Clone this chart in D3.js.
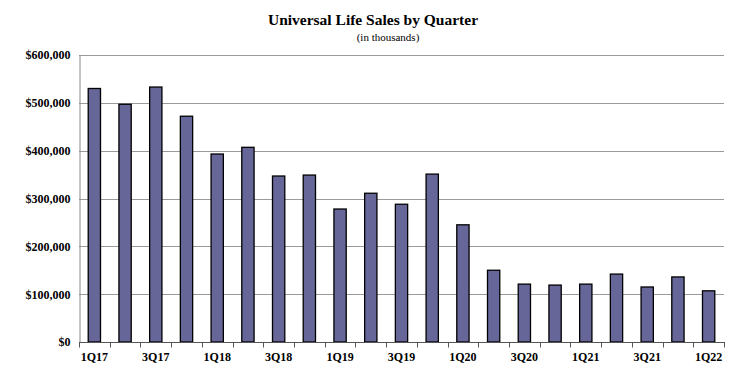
<!DOCTYPE html>
<html><head><meta charset="utf-8">
<script src="https://cdn.jsdelivr.net/npm/d3@7"></script>
<style>body{margin:0;background:#fff}svg{display:block}</style>
</head><body>
<svg id="c" width="739" height="379"></svg>
<script>
const categories = ["1Q17","2Q17","3Q17","4Q17","1Q18","2Q18","3Q18","4Q18","1Q19","2Q19","3Q19","4Q19","1Q20","2Q20","3Q20","4Q20","1Q21","2Q21","3Q21","4Q21","1Q22"];
const sales = [530000,497000,533000,472000,393000,407000,347000,349000,278000,311000,288000,351000,245000,150000,121000,119000,121000,142000,115000,136000,107000];
const yTicks = [0,100000,200000,300000,400000,500000,600000];
const xLabels = ["1Q17","3Q17","1Q18","3Q18","1Q19","3Q19","1Q20","3Q20","1Q21","3Q21","1Q22"];
const title = "Universal Life Sales by Quarter";
const subtitle = "(in thousands)";

const svg = d3.select("#c");
const m = {left:79, right:724, top:55, bottom:342};
const font = "'Liberation Serif','Times New Roman',serif";

const x = d3.scaleBand().domain(categories).range([m.left, m.right]).paddingInner(0.6).paddingOuter(0.3);
const y = d3.scaleLinear().domain([0,600000]).range([m.bottom, m.top]);

svg.append("text").attr("x",373).attr("y",25).attr("text-anchor","middle")
  .attr("font-family",font).attr("font-weight","bold").attr("font-size",15.5).text(title);
svg.append("text").attr("x",388).attr("y",41).attr("text-anchor","middle")
  .attr("font-family",font).attr("font-size",11).text(subtitle);

// gridlines
svg.append("g").selectAll("line").data(yTicks.filter(d=>d>0)).join("line")
  .attr("x1",m.left).attr("x2",m.right).attr("y1",d=>Math.round(y(d))+0.5).attr("y2",d=>Math.round(y(d))+0.5)
  .attr("stroke","#9a9a9a").attr("stroke-width",1);

// y axis
const yAxis = d3.axisLeft(y).tickValues(yTicks).tickSize(0).tickPadding(9)
  .tickFormat(d=>"$"+d3.format(",")(d));
const gy = svg.append("g").attr("transform",`translate(${m.left+0.5},0)`).call(yAxis);
gy.select(".domain").attr("stroke","#888");
gy.selectAll("text").attr("font-family",font).attr("font-weight","bold").attr("font-size",12).attr("fill","#000");

// bars
svg.append("g").selectAll("rect").data(categories).join("rect")
  .attr("x",(d)=>x(d)).attr("width",x.bandwidth())
  .attr("y",(d,i)=>y(sales[i])).attr("height",(d,i)=>y(0)-y(sales[i]))
  .attr("fill","#666699").attr("stroke","#000").attr("stroke-width",1.3);

// x axis
const step = x.step();
const gx = svg.append("g").attr("transform",`translate(0,${m.bottom+0.5})`);
gx.append("line").attr("x1",m.left).attr("x2",m.right+1).attr("stroke","#555");
const bounds = d3.range(categories.length+1).map(i=>m.left + i*(m.right-m.left)/categories.length);
gx.selectAll("line.t").data(bounds).join("line").attr("class","t")
  .attr("x1",d=>Math.round(d)+0.5).attr("x2",d=>Math.round(d)+0.5).attr("y1",0).attr("y2",5).attr("stroke","#555");
const xa = d3.axisBottom(x).tickValues(xLabels).tickSize(0).tickPadding(10);
const gl = svg.append("g").attr("transform",`translate(0,${m.bottom})`).call(xa);
gl.select(".domain").remove();
gl.selectAll("text").attr("font-family",font).attr("font-weight","bold").attr("font-size",12).attr("fill","#000");
</script>
</body></html>
